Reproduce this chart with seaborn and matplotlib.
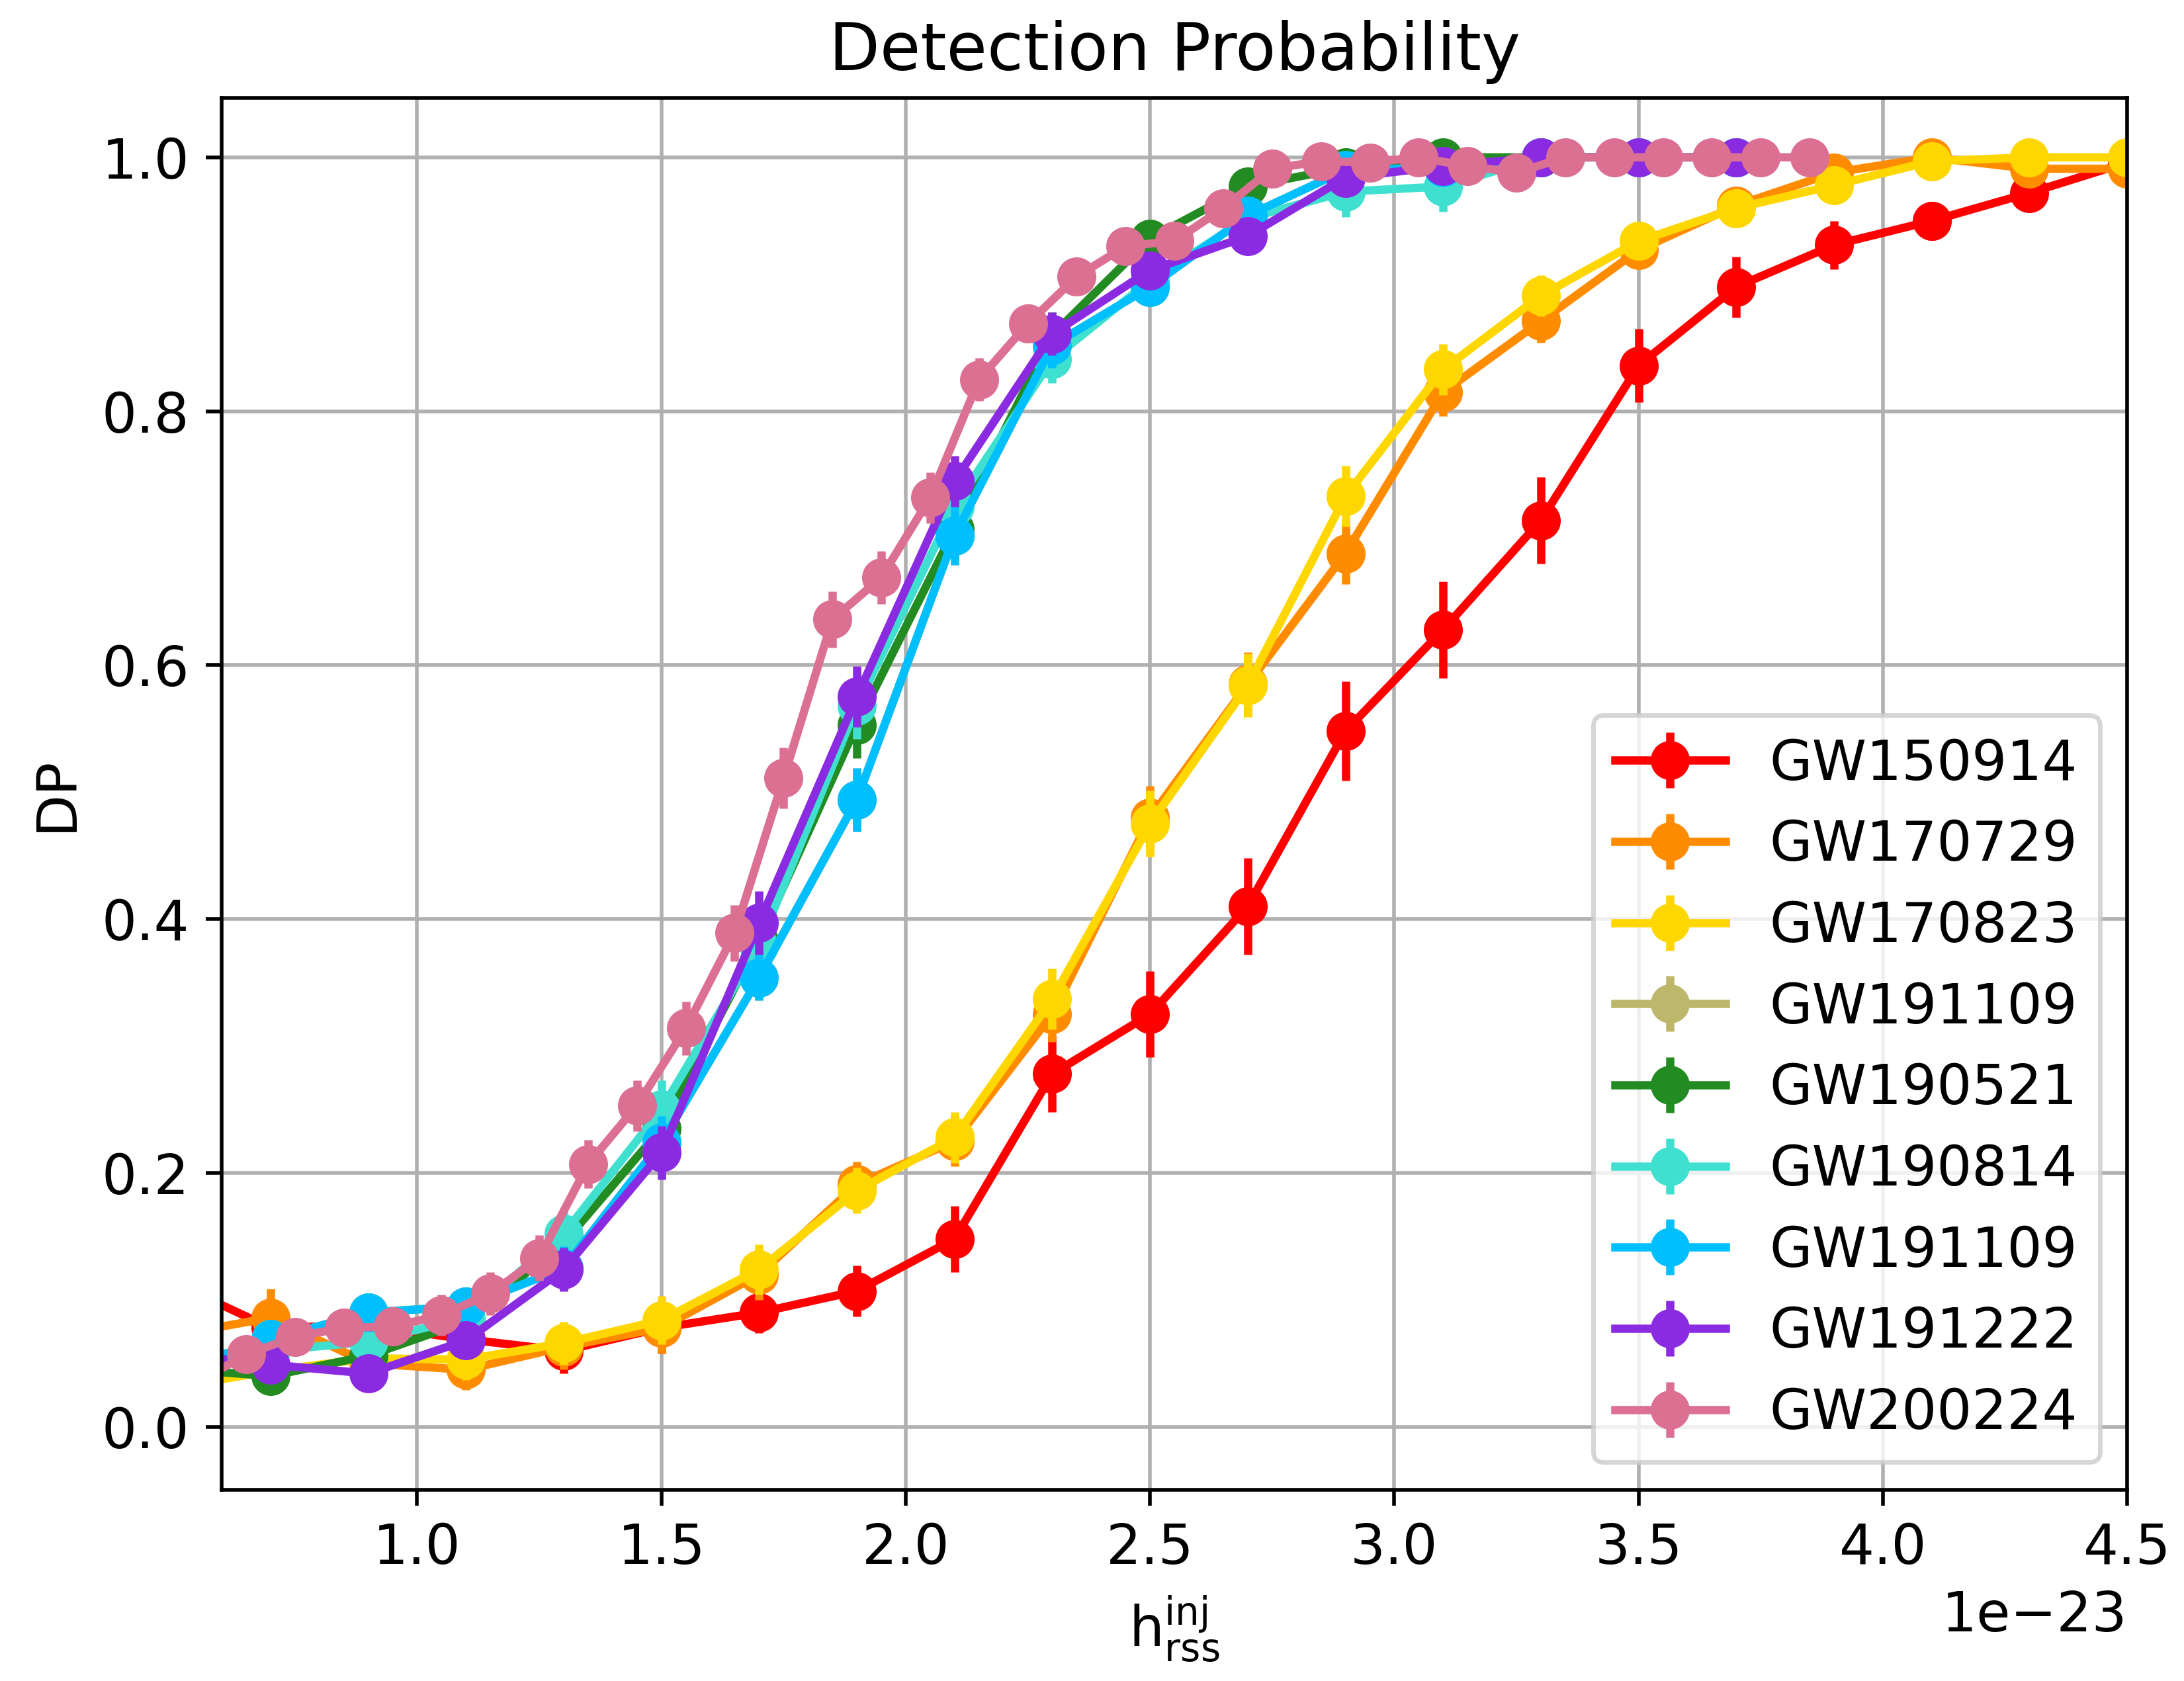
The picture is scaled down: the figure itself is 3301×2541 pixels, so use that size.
import numpy as np
import pandas as pd
import matplotlib
matplotlib.use("Agg")
import matplotlib.pyplot as plt
import seaborn as sns
from matplotlib.lines import Line2D
from matplotlib.legend_handler import HandlerTuple

plt.rcParams['font.family'] = ['DejaVu Sans']
plt.rcParams['font.size'] = 12

# injected h_rss values (units of 1e-23)
h_a = [0.5, 0.7, 0.9, 1.1, 1.3, 1.5, 1.7, 1.9, 2.1, 2.3, 2.5, 2.7, 2.9, 3.1, 3.3,
       3.5, 3.7, 3.9, 4.1, 4.3, 4.5]
h_b = [0.5, 0.7, 0.9, 1.1, 1.3, 1.5, 1.7, 1.9, 2.1, 2.3, 2.5, 2.7, 2.9, 3.1, 3.3,
       3.5, 3.7]
h_c = [0.55, 0.65, 0.75, 0.85, 0.95, 1.05, 1.15, 1.25, 1.35, 1.45, 1.55, 1.65,
       1.75, 1.85, 1.95, 2.05, 2.15, 2.25, 2.35, 2.45, 2.55, 2.65, 2.75, 2.85,
       2.95, 3.05, 3.15, 3.25, 3.35, 3.45, 3.55, 3.65, 3.75, 3.85]

dp_gw150914 = [0.114, 0.078, 0.080, 0.069, 0.060, 0.078, 0.090, 0.107, 0.148, 0.278,
               0.325, 0.410, 0.548, 0.628, 0.714, 0.836, 0.898, 0.931, 0.950, 0.972, 0.996]
err_gw150914 = [0.025, 0.021, 0.021, 0.020, 0.018, 0.020, 0.016, 0.020, 0.026, 0.030,
                0.034, 0.038, 0.039, 0.038, 0.034, 0.029, 0.024, 0.019, 0.015, 0.012, 0.005]

dp_gw170729 = [0.072, 0.086, 0.050, 0.045, 0.063, 0.078, 0.120, 0.191, 0.225, 0.325,
               0.480, 0.585, 0.688, 0.815, 0.871, 0.927, 0.962, 0.988, 1.000, 0.991, 0.991]
err_gw170729 = [0.020, 0.023, 0.017, 0.016, 0.018, 0.020, 0.020, 0.018, 0.020, 0.022,
                0.025, 0.025, 0.024, 0.019, 0.017, 0.013, 0.010, 0.006, 0.000, 0.005, 0.005]

dp_gw170823 = [0.031, 0.044, 0.054, 0.053, 0.066, 0.084, 0.124, 0.186, 0.228, 0.337,
               0.475, 0.584, 0.733, 0.833, 0.891, 0.934, 0.960, 0.978, 0.997, 1.000, 1.000]
err_gw170823 = [0.014, 0.015, 0.016, 0.016, 0.017, 0.019, 0.020, 0.018, 0.020, 0.024,
                0.026, 0.025, 0.024, 0.020, 0.016, 0.012, 0.010, 0.007, 0.003, 0.000, 0.000]

dp_gw191109_a = [0.043, 0.069, 0.090, 0.095, 0.125, 0.224, 0.354, 0.494, 0.702, 0.852,
                 0.898, 0.954, 0.990, 0.992, 1.000, 1.000, 1.000]
err_gw191109_a = [0.011, 0.013, 0.015, 0.015, 0.017, 0.021, 0.018, 0.025, 0.023, 0.018,
                  0.015, 0.011, 0.005, 0.004, 0.000, 0.000, 0.000]

dp_gw190521 = [0.046, 0.040, 0.056, 0.083, 0.145, 0.235, 0.383, 0.553, 0.707, 0.860,
               0.936, 0.977, 0.992, 1.000, 1.000, 1.000, 1.000]
err_gw190521 = [0.010, 0.010, 0.012, 0.014, 0.018, 0.022, 0.025, 0.026, 0.024, 0.018,
                0.013, 0.008, 0.005, 0.000, 0.000, 0.000, 0.000]

dp_gw190814 = [0.056, 0.060, 0.067, 0.086, 0.152, 0.250, 0.379, 0.568, 0.725, 0.841,
               0.903, 0.952, 0.973, 0.977, 1.000, 1.000, 1.000]
err_gw190814 = [0.012, 0.012, 0.013, 0.015, 0.019, 0.023, 0.025, 0.026, 0.023, 0.019,
                0.015, 0.011, 0.020, 0.020, 0.003, 0.000, 0.000]

dp_gw191109_b = [0.043, 0.069, 0.090, 0.095, 0.125, 0.224, 0.354, 0.494, 0.702, 0.852,
                 0.898, 0.954, 0.990, 0.992, 1.000, 1.000, 1.000]
err_gw191109_b = [0.011, 0.013, 0.015, 0.015, 0.017, 0.021, 0.018, 0.025, 0.023, 0.018,
                  0.015, 0.011, 0.005, 0.004, 0.000, 0.000, 0.000]

dp_gw191222 = [0.058, 0.049, 0.042, 0.068, 0.124, 0.216, 0.397, 0.575, 0.745, 0.861,
               0.911, 0.938, 0.984, 0.993, 1.000, 1.000, 1.000]
err_gw191222 = [0.011, 0.011, 0.010, 0.013, 0.017, 0.021, 0.025, 0.024, 0.020, 0.017,
                0.014, 0.012, 0.006, 0.004, 0.000, 0.000, 0.000]

dp_gw200224 = [0.035, 0.057, 0.071, 0.078, 0.079, 0.088, 0.105, 0.133, 0.207, 0.253,
               0.314, 0.389, 0.511, 0.636, 0.669, 0.732, 0.825, 0.869, 0.906, 0.930,
               0.934, 0.960, 0.991, 0.997, 0.996, 1.000, 0.993, 0.988, 1.000, 1.000,
               1.000, 1.000, 1.000, 1.000]
err_gw200224 = [0.012, 0.013, 0.014, 0.015, 0.015, 0.016, 0.017, 0.018, 0.019, 0.020,
                0.021, 0.022, 0.024, 0.022, 0.021, 0.020, 0.017, 0.015, 0.013, 0.011,
                0.011, 0.009, 0.004, 0.002, 0.003, 0.000, 0.003, 0.005, 0.000, 0.000,
                0.000, 0.000, 0.000, 0.000]

event_names = ['GW150914', 'GW170729', 'GW170823', 'GW191109', 'GW190521',
               'GW190814', 'GW191109', 'GW191222', 'GW200224']
event_colors = ['red', 'darkorange', 'gold', 'darkkhaki', 'forestgreen',
                'turquoise', 'deepskyblue', 'blueviolet', 'palevioletred']
event_h = [h_a, h_a, h_a, h_b, h_b, h_b, h_b, h_b, h_c]
event_dp = [dp_gw150914, dp_gw170729, dp_gw170823, dp_gw191109_a, dp_gw190521,
            dp_gw190814, dp_gw191109_b, dp_gw191222, dp_gw200224]
event_err = [err_gw150914, err_gw170729, err_gw170823, err_gw191109_a, err_gw190521,
             err_gw190814, err_gw191109_b, err_gw191222, err_gw200224]

fig = plt.figure(figsize=(6.602, 5.082), dpi=500)
ax = fig.add_axes([0.1015, 0.1138, 0.974 - 0.1015, 0.9419 - 0.1138])

LW = 1.8
MS = 8.5
ELW = 1.8

handles = []
for i, (name, col, hs, dps, errs) in enumerate(zip(event_names, event_colors,
                                                    event_h, event_dp, event_err)):
    df = pd.DataFrame({'h': np.asarray(hs) * 1e-23, 'dp': dps, 'err': errs})
    z = 2 + 0.01 * i
    ax.errorbar(df['h'], df['dp'], yerr=df['err'], fmt='none', ecolor=col,
                elinewidth=ELW, capsize=0, zorder=z)
    sns.lineplot(data=df, x='h', y='dp', ax=ax, color=col, marker='o',
                 markersize=MS, markeredgewidth=0, markeredgecolor=col,
                 linewidth=LW, zorder=z, legend=False, sort=False, errorbar=None)
    h_line = Line2D([0], [0], color=col, lw=LW, marker='o', markersize=MS,
                    markeredgewidth=0)
    h_bar = Line2D([0], [0], color=col, ls='none', marker='|', markersize=12,
                   markeredgewidth=ELW)
    handles.append((h_line, h_bar))

ax.set_xlim(0.6e-23, 4.5e-23)
ax.set_ylim(-0.0495, 1.047)
ax.grid(True)
ax.set_axisbelow(True)
ax.set_title('Detection Probability')
ax.set_xlabel(r'$\mathrm{h}_{\mathrm{rss}}^{\mathrm{inj}}$')
ax.set_ylabel('DP')
ax.legend(handles, event_names, loc='lower right',
          handler_map={tuple: HandlerTuple(ndivide=1)})

fig.savefig('out.png', dpi=500)
